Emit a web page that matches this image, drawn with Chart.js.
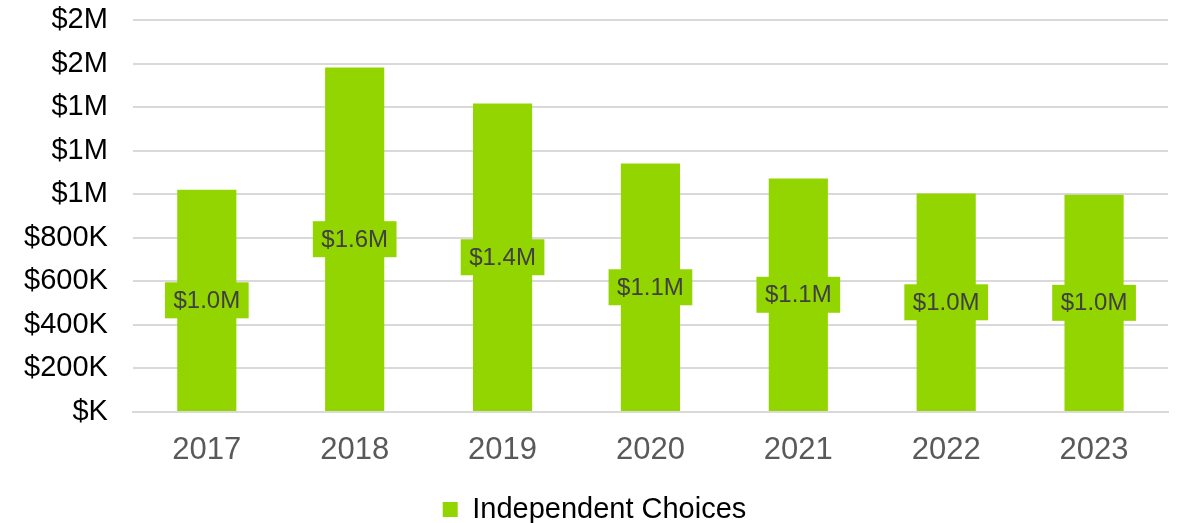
<!DOCTYPE html>
<html>
<head>
<meta charset="utf-8">
<script src="https://cdn.jsdelivr.net/npm/chart.js@4"></script>
<style>
  html, body { margin: 0; padding: 0; background: #fff; }
  #wrap { width: 1178px; height: 523px; }
</style>
</head>
<body>
<div id="wrap"><canvas id="chart"></canvas></div>
<script>
const years = ['2017', '2018', '2019', '2020', '2021', '2022', '2023'];
const funding = [1022000, 1584000, 1418000, 1142000, 1073000, 1004000, 999000];
const seriesName = 'Independent Choices';
const green = '#93d500';
const font = '"Liberation Sans", Arial, sans-serif';

function money(v) {
  if (v === 0) return '$K';
  if (v >= 1000000) return '$' + Math.round(v / 1000000) + 'M';
  return '$' + Math.round(v / 1000) + 'K';
}

// value boxes drawn in the middle of each bar
const barLabels = {
  id: 'barLabels',
  afterDatasetsDraw(chart) {
    const ctx = chart.ctx;
    const meta = chart.getDatasetMeta(0);
    ctx.save();
    ctx.font = '24px ' + font;
    ctx.textAlign = 'center';
    ctx.textBaseline = 'middle';
    meta.data.forEach((bar, i) => {
      const text = '$' + (funding[i] / 1000000).toFixed(1) + 'M';
      const cy = (bar.y + bar.base) / 2;
      const w = ctx.measureText(text).width + 17;
      ctx.fillStyle = green;
      ctx.fillRect(bar.x - w / 2, cy - 18, w, 36);
      ctx.fillStyle = '#404040';
      ctx.fillText(text, bar.x, cy + 1);
    });
    ctx.restore();
  }
};

new Chart(document.getElementById('chart'), {
  type: 'bar',
  data: {
    labels: years,
    datasets: [{
      label: seriesName,
      data: funding,
      backgroundColor: green,
      barPercentage: 0.4,
      categoryPercentage: 1.0
    }]
  },
  options: {
    responsive: true,
    maintainAspectRatio: false,
    animation: false,
    layout: { padding: { left: 21, right: 10, top: 0, bottom: -11 } },
    plugins: {
      tooltip: { enabled: false },
      legend: {
        position: 'bottom',
        labels: {
          boxWidth: 15,
          boxHeight: 15,
          color: '#000',
          padding: 2,
          font: { family: font, size: 29 }
        }
      }
    },
    scales: {
      x: {
        grid: { display: false },
        border: { color: '#d9d9d9', width: 2 },
        afterFit(scale) { scale.height = 81; },
        ticks: {
          color: '#595959',
          padding: 12,
          font: { family: font, size: 31 }
        }
      },
      y: {
        min: 0,
        max: 1800000,
        grid: { color: '#d9d9d9', lineWidth: 2, tickLength: 22, tickColor: 'rgba(0,0,0,0)' },
        border: { display: false },
        ticks: {
          stepSize: 200000,
          color: '#000',
          padding: 3,
          font: { family: font, size: 29 },
          callback: v => money(v)
        }
      }
    }
  },
  plugins: [barLabels]
});
</script>
</body>
</html>
